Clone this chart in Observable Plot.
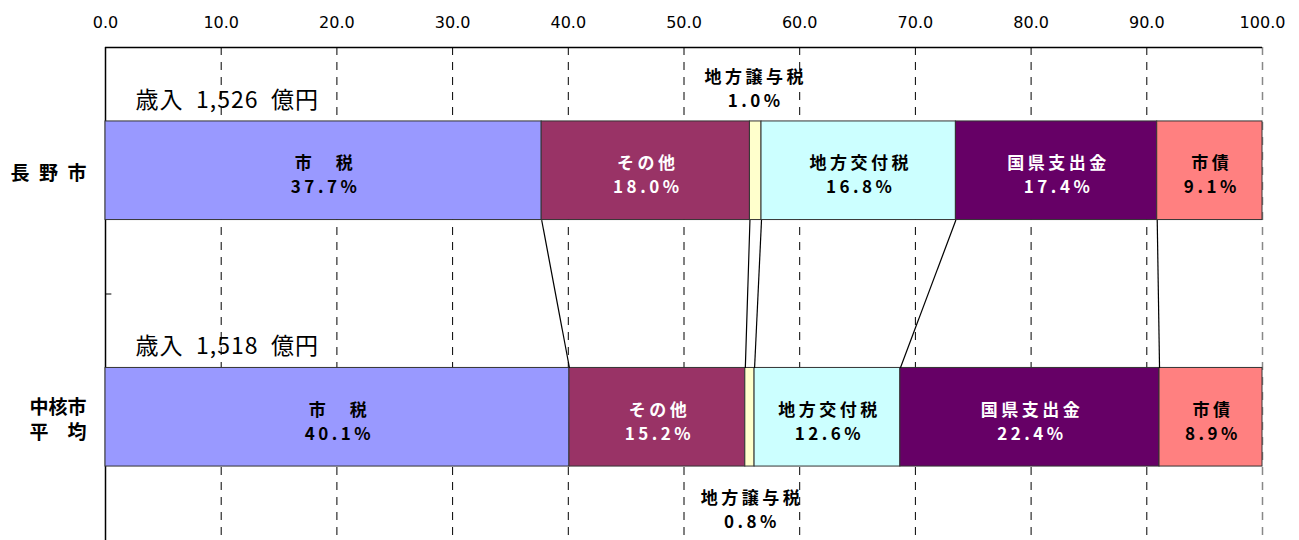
<!DOCTYPE html>
<html>
<head>
<meta charset="utf-8">
<script src="https://cdn.jsdelivr.net/npm/d3@7"></script>
<script src="https://cdn.jsdelivr.net/npm/@observablehq/plot@0.6"></script>
<style>
  html, body { margin: 0; padding: 0; background: #fff; }
  #chart svg { display: block; }
  g[aria-description="segment labels"] text { letter-spacing: 3.5px; }
  g[aria-description="totals"] text { letter-spacing: 1px; }
</style>
</head>
<body>
<div id="chart"></div>
<script>
// 歳入の構成比（％）
const categories = ["長\u2002野\u2002市", "中核市\n平　均"];
const items = ["市　税", "その他", "地方譲与税", "地方交付税", "国県支出金", "市債"];
const naganoShares = [37.7, 18.0, 1.0, 16.8, 17.4, 9.1];
const coreCityShares = [40.1, 15.2, 0.8, 12.6, 22.4, 8.9];
const totals = [1526, 1518];           // 億円
const xTicks = [0, 10, 20, 30, 40, 50, 60, 70, 80, 90, 100];

const itemColors = ["#9999ff", "#993366", "#ffffcc", "#ccffff", "#660066", "#ff8080"];
const itemTextColors = ["#000", "#fff", "#000", "#000", "#fff", "#000"];
const smallItem = "地方譲与税";

// Each category occupies one unit of the y domain; the bar fills the middle 40%.
const pad = 0.3;
const shares = [naganoShares, coreCityShares];

const segments = [];
shares.forEach((vals, r) => {
  let acc = 0;
  vals.forEach((v, i) => {
    segments.push({
      row: r, item: items[i], value: v,
      x1: acc, x2: acc + v,
      y1: r + pad, y2: r + 1 - pad,
      fill: itemColors[i], textFill: itemTextColors[i]
    });
    acc += v;
  });
});

// Connector lines between matching segment boundaries of the two bars
const links = [];
{
  let a = 0, b = 0;
  for (let i = 0; i < items.length - 1; i++) {
    a += naganoShares[i];
    b += coreCityShares[i];
    links.push({x1: a, x2: b, y1: 1 - pad, y2: 1 + pad});
  }
}

const inside = segments.filter(d => d.item !== smallItem);
const small = segments.filter(d => d.item === smallItem);
const label = d => `${d.item}\n${d.value.toFixed(1)}%`;

// category names split into lines; each line is its own text so lines never share a box
const lineGap = 25;
const categoryLines = categories.flatMap((c, r) => {
  const lines = c.split("\n");
  return lines.map((t, k) => ({row: r, text: t, offset: (k - (lines.length - 1) / 2) * lineGap}));
});
const lineOffsets = [...new Set(categoryLines.map(d => d.offset))];

const jp = "'Noto Sans CJK JP', 'Noto Sans', sans-serif";

const chart = Plot.plot({
  width: 1299,
  height: 540,
  marginTop: 47,
  marginLeft: 105,
  marginRight: 37,
  marginBottom: 0,
  style: {fontFamily: jp, color: "#000", background: "#fff"},
  x: {domain: [0, 100], label: null},
  y: {domain: [0, 2], reverse: true, axis: null},
  marks: [
    Plot.axisX({
      anchor: "top", ticks: xTicks, tickFormat: d => d.toFixed(1),
      tickSize: 0, tickPadding: 20, fontSize: 16, fontFamily: "'DejaVu Sans', sans-serif",
      fill: "#000", label: null
    }),
    // grid
    Plot.ruleX(xTicks.filter(d => d > 0 && d < 100), {stroke: "#000", strokeWidth: 1, strokeDasharray: "8,7"}),
    Plot.ruleX([100], {stroke: "#888", strokeWidth: 1.5, strokeDasharray: "8,7"}),
    // frame
    Plot.ruleY([0], {stroke: "#000", strokeWidth: 1.5}),
    Plot.ruleX([0], {stroke: "#000", strokeWidth: 1.5}),
    Plot.ruleY([1], {x1: 0, x2: 0.55, stroke: "#000"}),
    // bars
    Plot.rect(segments, {x1: "x1", x2: "x2", y1: "y1", y2: "y2", fill: "fill", stroke: "#333", strokeWidth: 1}),
    // connectors
    Plot.link(links, {x1: "x1", x2: "x2", y1: "y1", y2: "y2", stroke: "#000", strokeWidth: 1.2}),
    // labels inside bars
    Plot.text(inside, {
      x: d => (d.x1 + d.x2) / 2, y: d => d.row + 0.5, text: label,
      fill: "textFill", fontSize: 17, fontWeight: "bold", lineHeight: 1.41, dx: 2, dy: 3,
      ariaDescription: "segment labels"
    }),
    // small segment labels outside the bars
    Plot.text(small.filter(d => d.row === 0), {
      x: d => (d.x1 + d.x2) / 2, y: d => d.y1, text: label,
      fill: "#000", fontSize: 17, fontWeight: "bold", lineHeight: 1.41, lineAnchor: "bottom", dx: 0, dy: -14,
      ariaDescription: "segment labels"
    }),
    Plot.text(small.filter(d => d.row === 1), {
      x: d => (d.x1 + d.x2) / 2, y: d => d.y2, text: label,
      fill: "#000", fontSize: 17, fontWeight: "bold", lineHeight: 1.41, lineAnchor: "top", dx: 2, dy: 20,
      ariaDescription: "segment labels"
    }),
    // totals
    Plot.text(totals, {
      x: 0, y: (d, i) => i + pad, text: d => `歳入\u2002${d3.format(",")(d)}\u2002億円`,
      textAnchor: "start", dx: 30, dy: -21, fontSize: 23, fill: "#000",
      ariaDescription: "totals"
    }),
    // category labels
    ...lineOffsets.map(off => Plot.text(categoryLines.filter(d => d.offset === off), {
      x: 0, y: d => d.row + 0.5, text: "text",
      textAnchor: "end", dx: -19, dy: off + 3, fontSize: 19, fontWeight: "bold", fill: "#000"
    }))
  ]
});

document.getElementById("chart").appendChild(chart);
</script>
</body>
</html>
